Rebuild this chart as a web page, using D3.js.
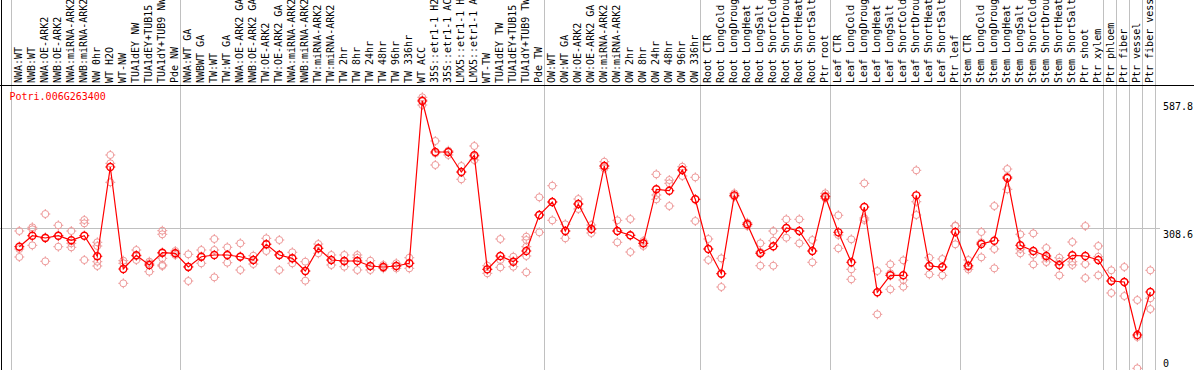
<!DOCTYPE html>
<html>
<head>
<meta charset="utf-8">
<script src="https://cdn.jsdelivr.net/npm/d3@7"></script>
<style>
  body { margin: 0; background: #fff; }
  text { font-family: "DejaVu Sans Mono", monospace; font-size: 10px; }
</style>
</head>
<body>
<div id="chart"></div>
<script>
// gene title
var geneName = "Potri.006G263400";

var labels = ["NWA:WT","NWB:WT","NWA:OE-ARK2","NWB:OE-ARK2","NWA:miRNA-ARK2","NWB:miRNA-ARK2","NW 0hr","WT H2O","WT-NW","TUA1dEY NW","TUA1dEY+TUB15 NW","TUA1dY+TUB9 NW","Pde NW",
  "NWA:WT GA","NWBWT GA","TW:WT","TW:WT GA","NWA:OE-ARK2 GA","NWB:OE-ARK2 GA","TW:OE-ARK2","TW:OE-ARK2 GA","NWA:miRNA-ARK2 GA","NWB:miRNA-ARK2 GA","TW:miRNA-ARK2","TW:miRNA-ARK2 GA",
  "TW 2hr","TW 8hr","TW 24hr","TW 48hr","TW 96hr","TW 336hr","WT ACC","35S::etr1-1 H2O","35S::etr1-1 ACC","LMX5::etr1-1 H2O","LMX5::etr1-1 ACC","WT-TW","TUA1dEY TW","TUA1dEY+TUB15 TW","TUA1dY+TUB9 TW","Pde TW",
  "OW:WT","OW:WT GA","OW:OE-ARK2","OW:OE-ARK2 GA","OW:miRNA-ARK2","OW:miRNA-ARK2 GA","OW 2hr","OW 8hr","OW 24hr","OW 48hr","OW 96hr","OW 336hr",
  "Root CTR","Root LongCold","Root LongDrought","Root LongHeat","Root LongSalt","Root ShortCold","Root ShortDrought","Root ShortHeat","Root ShortSalt","Ptr root",
  "Leaf CTR","Leaf LongCold","Leaf LongDrought","Leaf LongHeat","Leaf LongSalt","Leaf ShortCold","Leaf ShortDrought","Leaf ShortHeat","Leaf ShortSalt","Ptr leaf",
  "Stem CTR","Stem LongCold","Stem LongDrought","Stem LongHeat","Stem LongSalt","Stem ShortCold","Stem ShortDrought","Stem ShortHeat","Stem ShortSalt","Ptr shoot","Ptr xylem",
  "Ptr phloem","Ptr fiber","Ptr vessel","Ptr fiber vessel"];

// first column of each block (grey separators)
var groupStarts = [0, 13, 41, 53, 63, 73, 84, 85, 86, 87];

var means = [268.8, 292.9, 287.9, 292.9, 282.8, 292.9, 247.8, 443.3, 220.0, 250.0,
  228.8, 255.7, 254.4, 224.4, 246.9, 250.7, 250.7, 246.9, 239.7, 274.1,
  250.7, 243.4, 215.6, 265.3, 239.7, 237.5, 237.5, 226.6, 224.4, 226.6,
  232.5, 587.8, 476.1, 476.1, 432.3, 468.9, 219.3, 248.5, 236.0, 259.4,
  338.2, 366.7, 303.2, 362.3, 307.6, 445.5, 303.2, 293.8, 276.3, 394.5,
  391.4, 436.7, 372.6, 263.8, 209.7, 381.3, 317.9, 254.4, 269.7, 309.8,
  303.2, 259.4, 378.3, 300.3, 234.7, 355.7, 169.0, 206.2, 206.2, 381.3,
  226.6, 224.4, 301.0, 227.2, 274.7, 282.0, 419.2, 271.9, 259.4, 248.5,
  228.8, 250.0, 248.5, 239.7, 193.7, 191.5, 75.5, 169.7];

var reps = [
  [303.2, 263.8, 246.3], [311.3, 306.9, 271.9], [340.4, 289.4, 236.9], [315.7, 292.2, 268.8], [303.2, 276.3, 267.5],
  [327.3, 320.0, 239.7], [278.5, 270.4, 236.0, 226.6], [469.6, 451.4, 409.8], [238.2, 232.5, 188.7], [261.6, 248.5, 239.7],
  [236.0, 232.5, 214.1], [303.9, 296.0, 254.4, 243.4, 228.8, 226.6], [259.4, 254.4, 250.7], [252.2, 225.0, 193.7], [261.6, 246.3, 232.5],
  [285.7, 261.6, 201.8], [267.5, 250.7, 233.8], [276.3, 246.9, 217.8], [249.1, 239.7, 230.9], [287.2, 274.7, 259.4],
  [283.5, 250.7, 217.8], [256.6, 243.4, 232.5], [236.0, 215.6, 194.4], [274.7, 265.3, 254.4], [250.7, 239.7, 228.8],
  [250.7, 236.0, 225.0], [250.7, 244.7, 217.8], [238.2, 226.6, 217.8], [228.8, 224.4, 221.5], [232.5, 226.6, 221.5],
  [244.7, 232.5, 221.5], [595.9, 590.0, 579.0], [500.2, 473.3, 447.7], [479.0, 476.1, 469.6], [445.5, 432.3, 416.4],
  [489.3, 465.8, 458.6], [227.2, 219.3, 210.6], [285.7, 239.7, 223.7], [246.9, 236.0, 225.0], [290.7, 283.5, 268.8, 248.5, 212.8],
  [377.0, 338.2, 300.3], [402.4, 366.7, 326.6], [317.9, 303.2, 287.2], [373.2, 362.3, 351.4], [316.3, 307.6, 298.8],
  [454.9, 445.5, 440.4], [326.6, 303.2, 278.5], [329.5, 293.8, 257.2], [281.3, 276.3, 270.4], [427.3, 382.0, 372.6],
  [414.8, 407.6, 357.9], [443.9, 436.7, 423.6], [420.7, 372.6, 325.1], [285.7, 263.8, 239.7], [243.4, 209.7, 180.6],
  [385.7, 379.8, 378.3], [321.4, 317.9, 314.1], [276.3, 257.2, 227.2], [303.2, 282.0, 227.2], [328.8, 309.8, 288.5],
  [328.8, 303.2, 276.3], [283.5, 259.4, 234.7], [385.7, 380.5, 374.8], [337.6, 294.4, 265.3], [285.0, 219.3, 197.5],
  [407.6, 331.6, 327.3], [215.6, 169.0, 120.8], [230.3, 210.6, 175.6], [239.0, 195.9, 181.3], [436.1, 367.3, 338.2],
  [244.7, 226.6, 208.4], [241.9, 224.4, 206.2], [314.1, 315.0, 274.1], [239.7, 224.4, 219.3], [301.0, 278.5, 245.6],
  [357.9, 263.8, 221.5], [438.9, 422.1, 394.5], [296.0, 263.8, 254.4], [298.2, 251.3, 230.3], [266.0, 244.1, 235.3],
  [244.7, 236.0, 206.2], [279.1, 236.0, 228.8], [314.1, 230.9, 200.3], [270.4, 246.9, 206.2], [217.2, 193.7, 167.5],
  [224.4, 191.5, 160.9], [152.1, 71.1, 2.6], [217.2, 155.9, 132.4]
];

var yTicks = [0, 308.6, 587.8];

var W = 1194, H = 370;
var svg = d3.select("#chart").append("svg").attr("width", W).attr("height", H);

var x = d3.scalePoint().domain(d3.range(labels.length)).range([19.3, 1150.3]);
var y = d3.scaleLinear().domain([0, 587.8]).range([369.5, 101]);

// grey separators between sample blocks
var sepX = groupStarts.map(function(i) { return Math.floor(x(i) - 7.5) + 0.5; });
sepX.push(Math.floor(x(labels.length - 1) + 5) + 0.5);
svg.selectAll("line.sep").data(sepX).enter().append("line")
  .attr("class", "sep")
  .attr("x1", function(d) { return d; }).attr("x2", function(d) { return d; })
  .attr("y1", 0).attr("y2", H)
  .attr("stroke", "#c0c0c0").attr("stroke-width", 1);

// mid grid line
svg.append("line")
  .attr("x1", 0).attr("x2", 1160)
  .attr("y1", Math.floor(y(yTicks[1])) + 0.5).attr("y2", Math.floor(y(yTicks[1])) + 0.5)
  .attr("stroke", "#c0c0c0").attr("stroke-width", 1);

// black frame bits
svg.append("line").attr("x1", 0).attr("x2", W).attr("y1", 85.5).attr("y2", 85.5).attr("stroke", "#000");
svg.append("line").attr("x1", 1.5).attr("x2", 1.5).attr("y1", 0).attr("y2", H).attr("stroke", "#000");

// sample labels, rotated
svg.selectAll("text.lab").data(labels).enter().append("text")
  .attr("class", "lab")
  .attr("transform", function(d, i) { return "translate(" + (x(i) + 2.8) + ",83) rotate(-90)"; })
  .attr("fill", "#000")
  .text(function(d) { return d; });

// y tick labels on the right
svg.selectAll("text.tick").data(yTicks).enter().append("text")
  .attr("class", "tick")
  .attr("x", 1163)
  .attr("y", function(d) { return Math.min(y(d) + 9, 366.5); })
  .attr("fill", "#000")
  .text(function(d) { return d === 0 ? "0" : d.toFixed(1); });

svg.append("text").attr("x", 9.5).attr("y", 100).attr("fill", "#ff0000").text(geneName);

function marker(g, r, color, sw) {
  g.append("circle").attr("r", r).attr("fill", "none").attr("stroke", color).attr("stroke-width", sw);
  g.append("path")
    .attr("d", "M0," + (-r - 1.5) + "V" + (-r + 0.5) + "M0," + (r - 0.5) + "V" + (r + 1.5) +
               "M" + (-r - 1.5) + ",0H" + (-r + 0.5) + "M" + (r - 0.5) + ",0H" + (r + 1.5))
    .attr("stroke", color).attr("stroke-width", 1);
}

// replicate points
var repPts = [];
reps.forEach(function(arr, i) { arr.forEach(function(v) { repPts.push({i: i, v: v}); }); });
svg.selectAll("g.rep").data(repPts).enter().append("g")
  .attr("class", "rep")
  .attr("transform", function(d) { return "translate(" + x(d.i) + "," + y(d.v) + ")"; })
  .each(function() { marker(d3.select(this), 3.5, "#ee9a9a", 1); });

// mean line
var line = d3.line().x(function(d, i) { return x(i); }).y(function(d) { return y(d); });
svg.append("path").datum(means).attr("d", line)
  .attr("fill", "none").attr("stroke", "#ff0000").attr("stroke-width", 1.2);

svg.selectAll("g.mean").data(means).enter().append("g")
  .attr("class", "mean")
  .attr("transform", function(d, i) { return "translate(" + x(i) + "," + y(d) + ")"; })
  .each(function() { marker(d3.select(this), 3.5, "#ff0000", 1.4); });
</script>
</body>
</html>
